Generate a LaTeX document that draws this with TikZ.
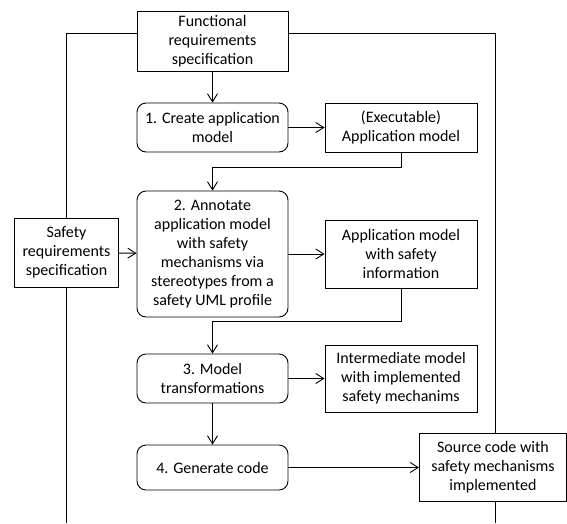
\documentclass[tikz,border=0pt]{standalone}
\usepackage{fontspec}
\setmainfont{Carlito}
\usetikzlibrary{arrows.meta}
\begin{document}
\begin{tikzpicture}[x=1pt,y=-1pt,
  font=\fontsize{16}{19}\selectfont,
  line width=0.9pt,
  box/.style={draw, align=center, inner sep=0pt, minimum width=#1},
  box/.default=151,
  stepbox/.style={draw, rounded corners=9pt, align=center, inner sep=0pt, minimum width=151},
  flow/.style={-{Straight Barb[length=8pt,width=10pt,line width=0.9pt]}}
]
\useasboundingbox (0,0) rectangle (567,523);

% input specifications
\node[box, minimum height=60] (fr) at (212.5,41) {Functional\\requirements\\specification};
\node[box=104, minimum height=69] (sr) at (66.5,252.5) {Safety\\requirements\\specification};

% process steps
\node[stepbox, minimum height=49] (s1) at (212.5,127.5) {1. Create application\\model};
\node[stepbox, minimum height=126] (s2) at (212.5,254) {2. Annotate\\application model\\with safety\\mechanisms via\\stereotypes from a\\safety UML profile};
\node[stepbox, minimum height=49] (s3) at (212.5,378.5) {3. Model\\transformations};
\node[stepbox, minimum height=45] (s4) at (212.5,467.5) {4. Generate code};

% artefacts
\node[box=152, minimum height=49] (ex) at (401,127.5) {(Executable)\\Application model};
\node[box=152, minimum height=68] (as) at (401,254) {Application model\\with safety\\information};
\node[box=152, minimum height=67] (im) at (401,378.5) {Intermediate model\\with implemented\\safety mechanims};
\node[box=147, minimum height=68] (sc) at (493,467) {Source code with\\safety mechanisms\\implemented};

% helper points for the side lines
\coordinate (sctop) at (495,433);
\coordinate (scbot) at (495,501);
\coordinate (rbot) at (495,523);
\coordinate (lbot) at (66.5,523);

% main flow
\draw[flow] (fr) -- (s1);
\draw[flow] (s1) -- (ex);
\draw[flow] (ex.south) -- ++(0,15) -| (s2.north);
\draw[flow] (sr) -- (s2);
\draw[flow] (s2.east |- as.west) -- (as.west);
\draw[flow] (as.south) -- ++(0,33) -| (s3.north);
\draw[flow] (s3) -- (im);
\draw[flow] (s3) -- (s4);
\draw[flow] (s4) -- (s4 -| sc.west);

% side lines
\draw ([yshift=8pt]fr.west) -| (sr.north);
\draw (sr.south) -- (lbot);
\draw ([yshift=8pt]fr.east) -| (sctop);
\draw (scbot) -- (rbot);
\end{tikzpicture}
\end{document}
